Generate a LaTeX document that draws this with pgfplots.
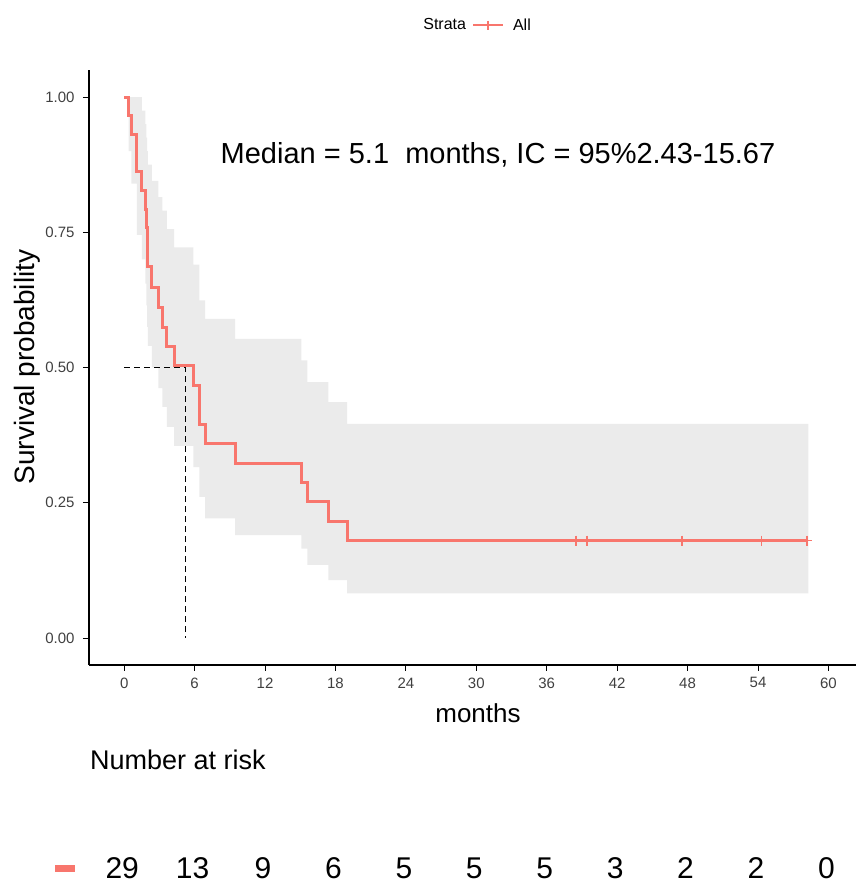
\documentclass[border=0pt]{standalone}
\usepackage{fontspec}
\setmainfont{Liberation Sans}
\usepackage{pgfplots}
\usepackage{pgfplotstable}
\pgfplotsset{compat=1.18}
\usepgfplotslibrary{fillbetween}
\definecolor{kmred}{HTML}{F8766D}
\definecolor{bandgray}{HTML}{EBEBEB}

\pgfplotstableread{
t s
0 1.000
0.37 0.965
0.60 0.931
1.08 0.862
1.50 0.827
1.80 0.793
1.88 0.758
1.95 0.724
2.02 0.686
2.36 0.648
2.92 0.611
3.26 0.574
3.63 0.539
4.25 0.503
5.90 0.467
6.40 0.395
6.90 0.359
9.45 0.323
15.1 0.288
15.6 0.252
17.4 0.216
19.0 0.180
58.2 0.180
}\survtab

\pgfplotstableread{
t lo up
0 1.000 1.000
0.37 0.900 1.000
0.60 0.840 1.000
1.08 0.745 1.000
1.50 0.700 0.975
1.80 0.655 0.950
1.88 0.615 0.925
1.95 0.575 0.900
2.02 0.540 0.875
2.36 0.500 0.845
2.92 0.462 0.815
3.26 0.427 0.790
3.63 0.390 0.756
4.25 0.355 0.722
5.90 0.316 0.690
6.40 0.261 0.624
6.90 0.221 0.590
9.45 0.190 0.553
15.1 0.165 0.513
15.6 0.135 0.473
17.4 0.107 0.436
19.0 0.0825 0.396
58.3 0.0825 0.396
}\bandtab

\pgfplotstableread{
t y n
0 0 29
6 0 13
12 0 9
18 0 6
24 0 5
30 0 5
36 0 5
42 0 3
48 0 2
54 0 2
60 0 0
}\risktab

\begin{document}
\begin{tikzpicture}
\begin{axis}[
  at={(0pt,0pt)}, anchor=south west,
  scale only axis, width=767pt, height=595pt,
  xmin=-3, xmax=62.35, ymin=-0.05, ymax=1.05,
  axis lines*=left,
  axis line style={black, line width=1.1pt},
  tick style={black, line width=0.9pt},
  tick align=outside, major tick length=6pt,
  xtick={0,6,...,60},
  ytick={0,0.25,0.5,0.75,1},
  /pgf/number format/assume math mode=true,
  yticklabel style={xshift=-5pt, /pgf/number format/.cd, fixed, fixed zerofill, precision=2},
  xticklabel style={yshift=-3pt},
  ticklabel style={font=\fontsize{15}{15}\selectfont, text=black!75},
  legend style={at={(0.506,1.0756)}, anchor=center, draw=none, fill=none,
    legend columns=-1, font=\fontsize{16}{16}\selectfont,
    /tikz/every even column/.append style={column sep=4pt}},
  legend image code/.code={\draw[mark repeat=2, mark phase=2, #1] plot coordinates {(0pt,0pt) (15pt,0pt) (30pt,0pt)};},
]
\addplot[name path=U, const plot, draw=none, forget plot] table[x=t,y=up]{\bandtab};
\addplot[name path=L, const plot, draw=none, forget plot] table[x=t,y=lo]{\bandtab};
\addplot[bandgray, forget plot] fill between[of=U and L];
\addplot[black, line width=1.4pt, dash pattern=on 6pt off 4pt, forget plot] coordinates {(0,0.5) (5.2,0.5) (5.2,0)};
\addplot[kmred, const plot, line width=3pt, forget plot] table[x=t,y=s]{\survtab};
\addplot[kmred, only marks, mark=+, mark size=5pt, line width=1.8pt, forget plot] coordinates {(38.5,0.18) (39.4,0.18) (47.5,0.18) (54.3,0.18) (58.2,0.18)};
\addlegendimage{empty legend}
\addlegendentry{Strata}
\addlegendimage{kmred, line width=2pt, mark=+, mark size=4.5pt, mark options={line width=1.6pt}}
\addlegendentry{\kern7pt All}
\end{axis}
\begin{axis}[
  at={(0pt,-213pt)}, anchor=south west,
  scale only axis, width=767pt, height=20pt,
  xmin=-3, xmax=62.35, ymin=-1, ymax=1,
  axis lines=none, ticks=none, clip=false,
]
\addplot[draw=none, mark=none, nodes near coords, point meta=explicit symbolic,
  nodes near coords style={anchor=center, font=\fontsize{30}{30}\selectfont, text=black, xshift=-2pt}]
  table[x=t, y=y, meta=n]{\risktab};
\end{axis}
\node[font=\fontsize{29}{29}\selectfont] at (409pt,510pt) {Median = 5.1\ \ months, IC = 95\%2.43-15.67};
\node[font=\fontsize{26}{26}\selectfont, anchor=center] at (389pt,-48pt) {months};
\node[font=\fontsize{28}{28}\selectfont, rotate=90, anchor=center] at (-62pt,298pt) {Survival probability};
\node[font=\fontsize{27}{27}\selectfont, anchor=west, inner sep=0pt] at (1pt,-95pt) {Number at risk};
\node[inner sep=0pt] at (-24pt,-203pt) {\textcolor{kmred}{\rule{20pt}{7pt}}};
\pgfresetboundingbox
\path[use as bounding box] (-89pt,-226pt) rectangle (767pt,665pt);
\end{tikzpicture}
\end{document}
